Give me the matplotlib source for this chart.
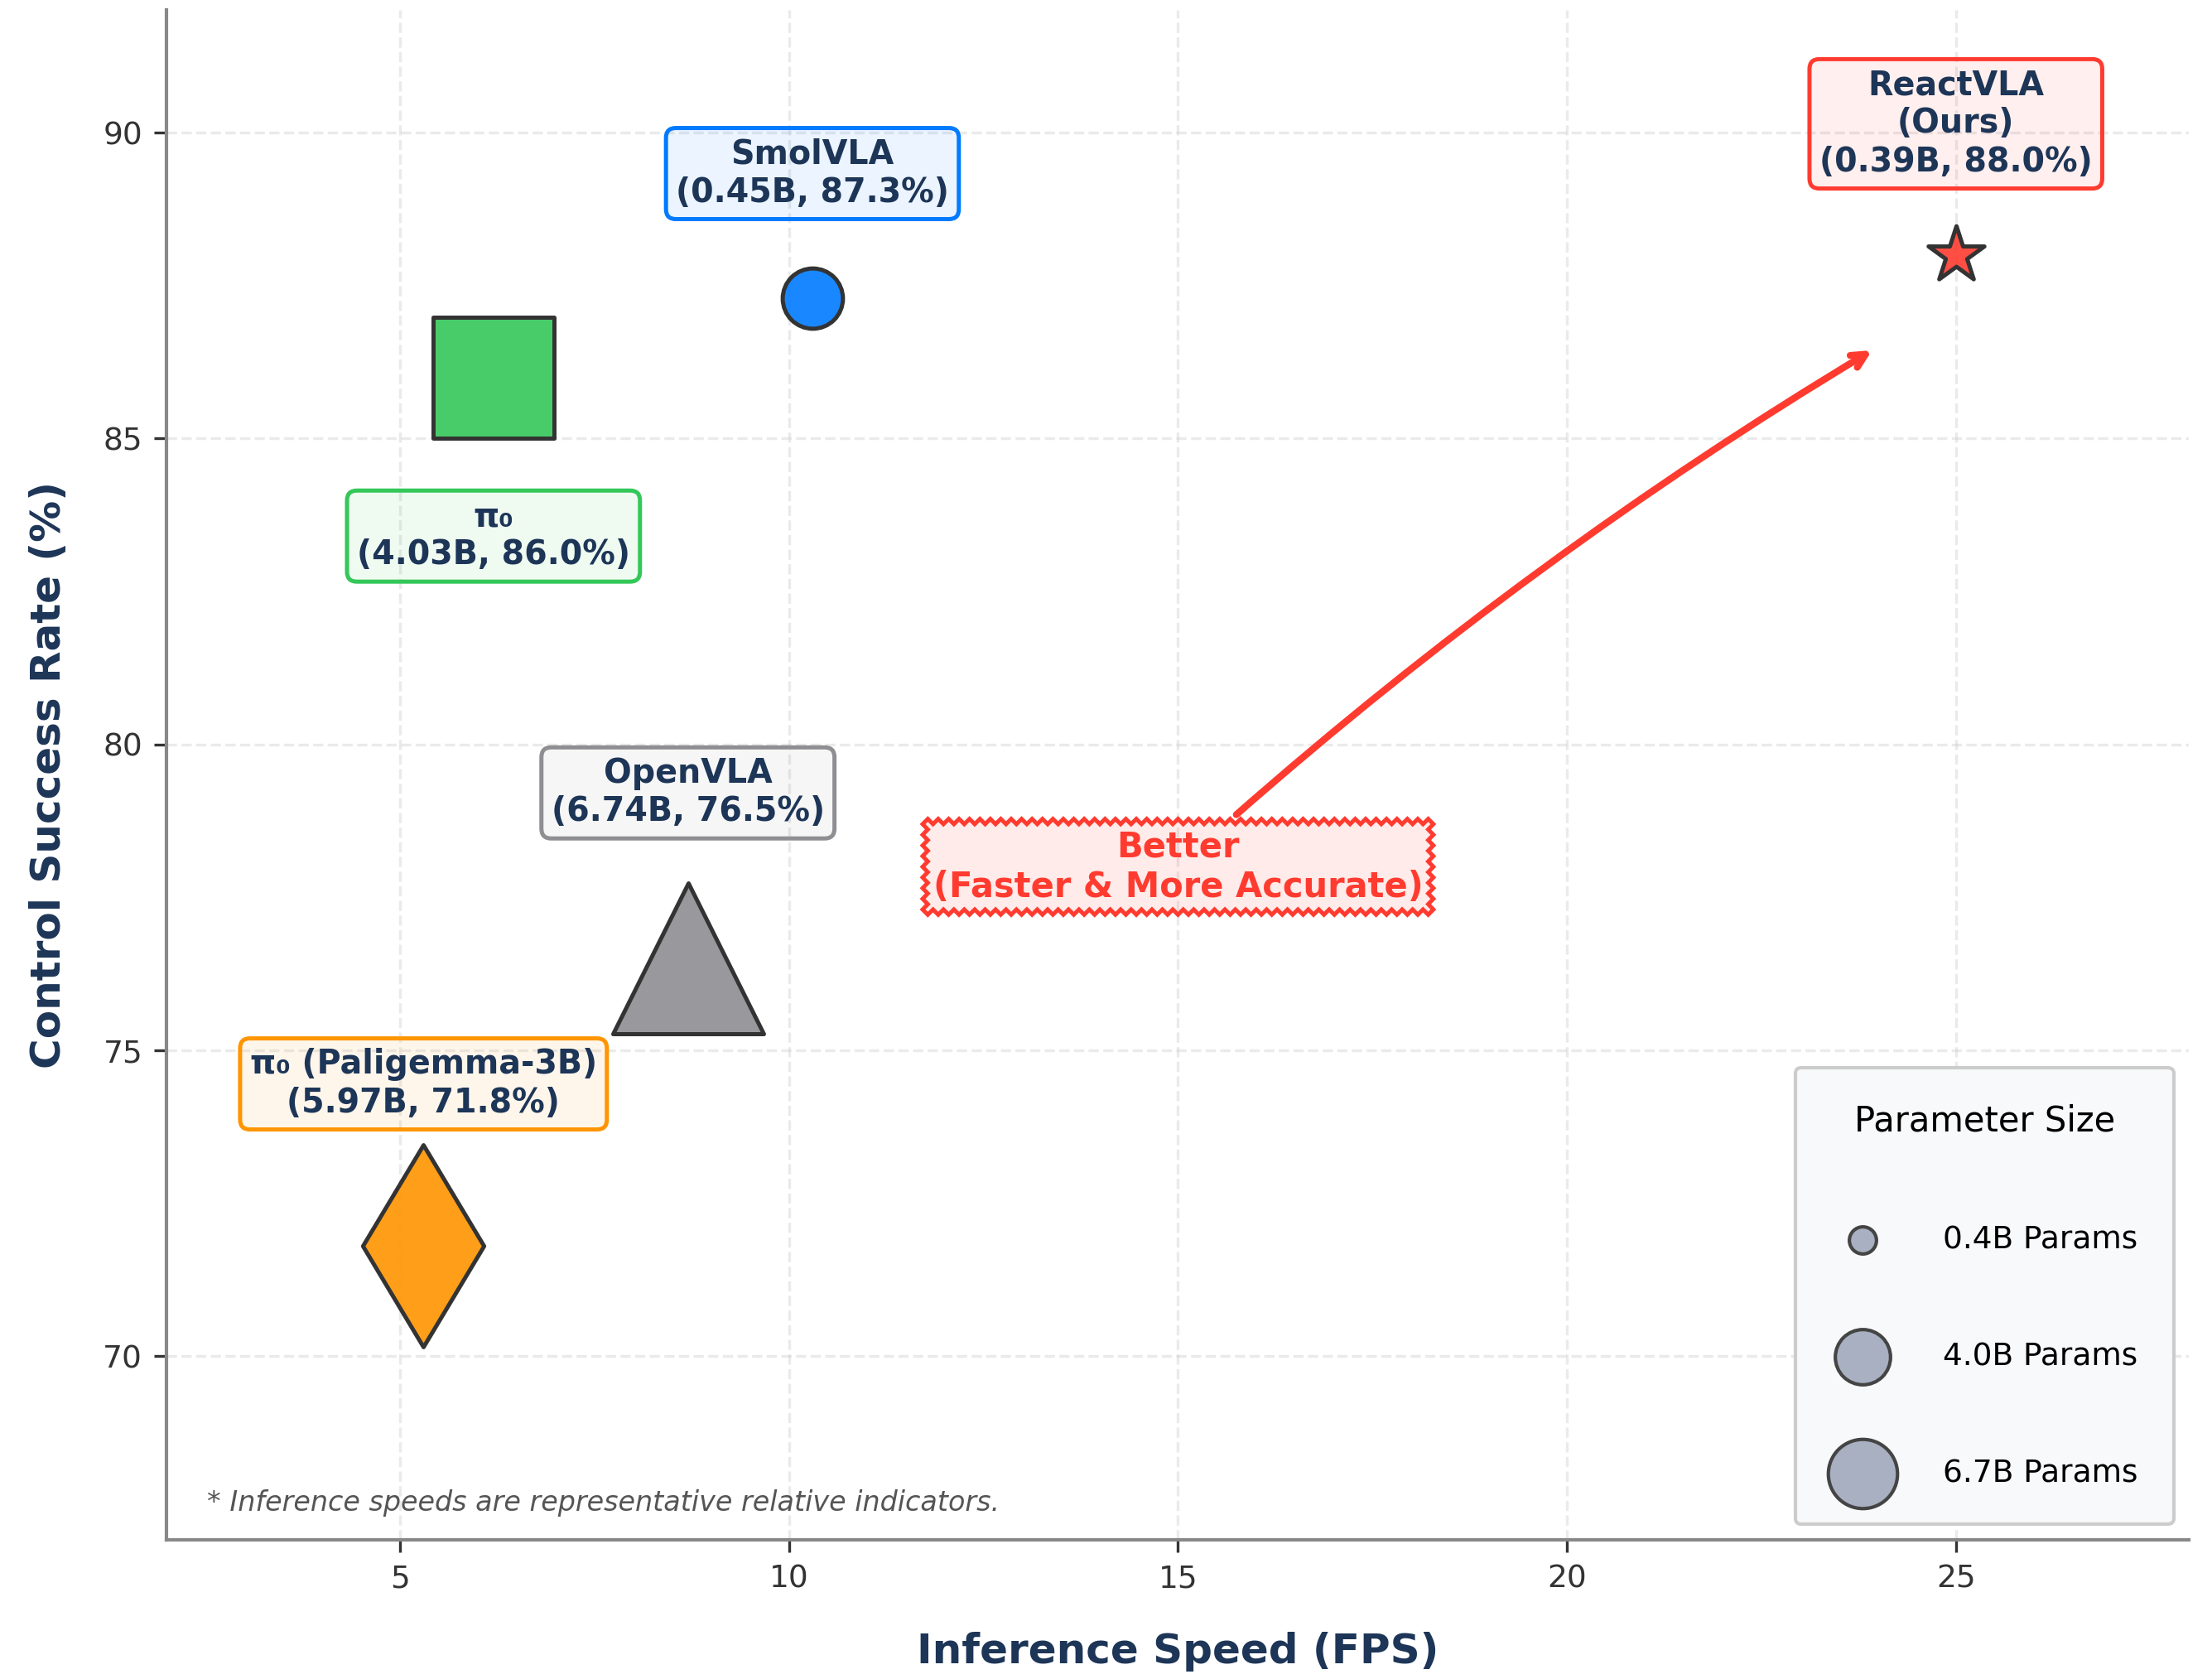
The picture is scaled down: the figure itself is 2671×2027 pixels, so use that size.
import matplotlib
matplotlib.use("Agg")
import matplotlib.pyplot as plt
from matplotlib.colors import to_rgba

# model data
model_names = ['ReactVLA\n(Ours)', 'SmolVLA', 'π₀', 'OpenVLA', 'π₀ (Paligemma-3B)']
params_b = [0.39, 0.45, 4.03, 6.74, 5.97]
success_rate = [88.0, 87.3, 86.0, 76.5, 71.8]
inference_fps = [25.0, 10.3, 6.2, 8.7, 5.3]

legend_params = [0.4, 4.0, 6.7]

# styles
model_colors = ['#FF3B30', '#007AFF', '#34C759', '#8E8E93', '#FF9500']
model_markers = ['*', 'o', 's', '^', 'd']
label_offsets = [38, 36, -46, 48, 47]   # vertical label offset, points
NAVY = '#1D3557'
RED = '#FF3B30'


def marker_size(p):
    """scatter size grows with parameter count"""
    return 190 + 255 * p


def plot_speed_vs_success():
    fig = plt.figure(figsize=(2671 / 300, 2027 / 300), dpi=300)
    ax = fig.add_axes([0.0754, 0.0829, 0.9897 - 0.0754, 0.9939 - 0.0829])

    for name, p, sr, fps, col, mk, off in zip(model_names, params_b, success_rate,
                                              inference_fps, model_colors,
                                              model_markers, label_offsets):
        ax.scatter(fps, sr, s=marker_size(p), marker=mk,
                   facecolors=[to_rgba(col, 0.9)], edgecolors='#333333',
                   linewidths=1.2, zorder=3)
        ax.annotate(f"{name}\n({p:.2f}B, {sr:.1f}%)", (fps, sr),
                    xytext=(0, off), textcoords='offset points',
                    ha='center', va='center', fontsize=9.5, fontweight='bold',
                    color=NAVY, zorder=4,
                    bbox=dict(boxstyle='round,pad=0.3', fc=to_rgba(col, 0.08),
                              ec=col, lw=1.2))

    # "better" direction arrow
    ax.annotate('Better\n(Faster & More Accurate)', xy=(24, 86.5), xytext=(15, 78),
                ha='center', va='center', fontsize=10, fontweight='bold', color=RED,
                zorder=4,
                bbox=dict(boxstyle='sawtooth,pad=0.3', fc=to_rgba(RED, 0.1), ec=RED, lw=1.2),
                arrowprops=dict(arrowstyle='->', color=RED, lw=2,
                                connectionstyle='arc3,rad=-0.05'))

    ax.text(0.02, 0.015, '* Inference speeds are representative relative indicators.',
            transform=ax.transAxes, fontsize=8, style='italic', color='#555555',
            va='bottom', ha='left')

    # size legend
    handles = []
    for p in legend_params:
        h = ax.scatter([], [], s=marker_size(p), c='#A8B0C1', edgecolors='#444444',
                       linewidths=1, label=f"{p:.1f}B Params")
        handles.append(h)
    leg = ax.legend(handles=handles, title='Parameter Size', loc='lower right',
                    fontsize=9, title_fontsize=10, labelspacing=2.8,
                    handletextpad=1.6, borderpad=1.15, markerscale=0.46,
                    scatterpoints=1, frameon=True, facecolor='#F8F9FA',
                    edgecolor='#CCCCCC', framealpha=1)
    leg.set_zorder(5)

    ax.set_xlim(2, 28)
    ax.set_ylim(67, 92)
    ax.set_xticks([5, 10, 15, 20, 25])
    ax.set_yticks([70, 75, 80, 85, 90])
    ax.set_xlabel('Inference Speed (FPS)', fontsize=12, fontweight='bold',
                  color=NAVY, labelpad=11)
    ax.set_ylabel('Control Success Rate (%)', fontsize=12, fontweight='bold',
                  color=NAVY, labelpad=10)

    ax.grid(True, linestyle='--', color='#cccccc', alpha=0.4, lw=0.8)
    ax.set_axisbelow(True)
    for side in ['top', 'right']:
        ax.spines[side].set_visible(False)
    for side in ['left', 'bottom']:
        ax.spines[side].set_color('#888888')
        ax.spines[side].set_linewidth(1.0)
    ax.tick_params(colors='#333333', labelsize=9)

    fig.savefig('out.png', dpi=300)


plot_speed_vs_success()
